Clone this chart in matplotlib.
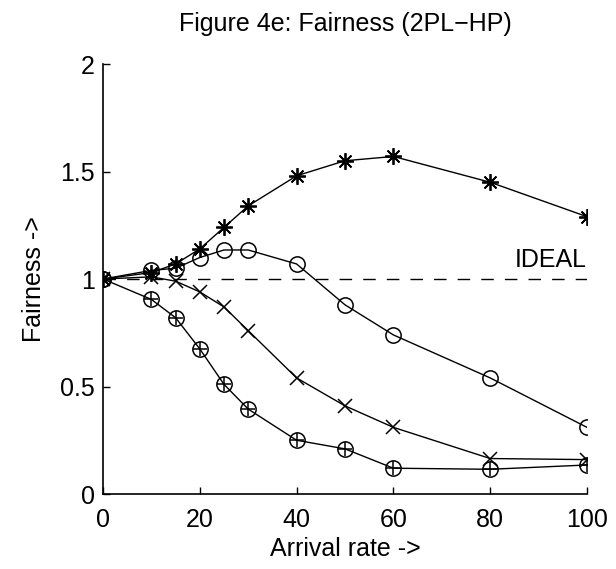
import matplotlib
matplotlib.use("Agg")
import matplotlib.pyplot as plt
import numpy as np

plt.rcParams['font.family'] = ['Liberation Sans', 'DejaVu Sans']

######################################################## Data ######################################################
arrival_rate = [0, 10, 15, 20, 25, 30, 40, 50, 60, 80, 100]
fair_star = [1.0, 1.03, 1.07, 1.14, 1.24, 1.34, 1.48, 1.55, 1.57, 1.45, 1.29]
fair_circle = [1.0, 1.04, 1.05, 1.10, 1.135, 1.135, 1.07, 0.88, 0.74, 0.54, 0.31]
fair_cross = [1.0, 1.01, 0.99, 0.94, 0.87, 0.76, 0.54, 0.41, 0.31, 0.165, 0.16]
fair_oplus = [1.0, 0.905, 0.82, 0.675, 0.51, 0.395, 0.25, 0.21, 0.12, 0.115, 0.135]
ideal_level = 1.0
x_ticks = [0, 20, 40, 60, 80, 100]
y_ticks = [0, 0.5, 1, 1.5, 2]
y_tick_labels = ['0', '0.5', '1', '1.5', '2']
####################################################################################################################

fig = plt.figure(figsize=(6.16, 5.69), dpi=100)
ax = fig.add_axes([0.1672, 0.1318, 0.7857, 0.7557])

lw = 1.0
ax.plot(arrival_rate, fair_star, color='black', lw=lw, marker=(8, 2, 0), ms=12, mew=1.3)
ax.plot(arrival_rate, fair_circle, color='black', lw=lw, marker='o', ms=11, mfc='none', mew=1.1)
ax.plot(arrival_rate, fair_cross, color='black', lw=lw, marker='x', ms=10, mew=1.1)
ax.plot(arrival_rate, fair_oplus, color='black', lw=lw, marker='o', ms=11, mfc='none', mew=1.1)
ax.plot(arrival_rate, fair_oplus, color='black', lw=0, marker='+', ms=10, mew=1.1)

ax.plot([0, 100], [ideal_level, ideal_level], color='black', lw=1.0, linestyle=(0, (9, 8)))
ax.text(100, 1.09, 'IDEAL', fontsize=18, ha='right', va='center')

ax.set_xlim(0, 100)
ax.set_ylim(0, 2)
ax.set_xticks(x_ticks)
ax.set_yticks(y_ticks)
ax.set_yticklabels(y_tick_labels)
ax.tick_params(direction='in', length=5, width=1, labelsize=18)
ax.tick_params(axis='x', pad=10)
ax.tick_params(axis='y', pad=6)
for s in ['top', 'right']:
    ax.spines[s].set_visible(False)
for s in ['left', 'bottom']:
    ax.spines[s].set_linewidth(1.2)

ax.set_title('Figure 4e: Fairness (2PL\u2212HP)', fontsize=18, pad=24)
ax.set_xlabel('Arrival rate ->', fontsize=18, labelpad=4)
ax.set_ylabel('Fairness ->', fontsize=18, labelpad=10)

fig.savefig('out.png', dpi=100)
